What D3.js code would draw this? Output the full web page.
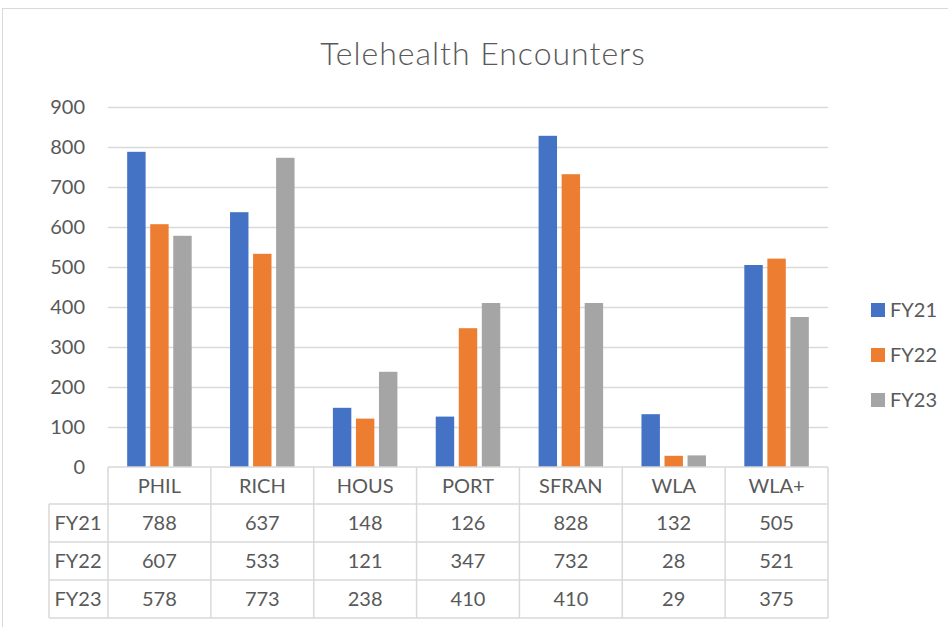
<!DOCTYPE html>
<html><head><meta charset="utf-8">
<script src="https://cdn.jsdelivr.net/npm/d3@7"></script>
<style>body{margin:0;background:#fff}svg{display:block}text{font-family:Lato,"Open Sans",sans-serif;fill:#595959}</style>
</head><body>
<script>
const title = "Telehealth Encounters";
const categories = ["PHIL","RICH","HOUS","PORT","SFRAN","WLA","WLA+"];
const seriesNames = ["FY21","FY22","FY23"];
const fy21 = [788,637,148,126,828,132,505];
const fy22 = [607,533,121,347,732,28,521];
const fy23 = [578,773,238,410,410,29,375];
const yTicks = [0,100,200,300,400,500,600,700,800,900];
const colors = ["#4472C4","#ED7D31","#A5A5A5"];
const seriesValues = [fy21, fy22, fy23];

const W = 948, H = 627;
const svg = d3.select("body").append("svg").attr("width", W).attr("height", H);
svg.append("rect").attr("x",2.5).attr("y",8.5).attr("width",W+10).attr("height",H+10)
  .attr("fill","#fff").attr("stroke","#D9D9D9").attr("stroke-width",1);

const plot = {left:108, right:828, top:107, bottom:467};
const x = d3.scaleBand().domain(categories).range([plot.left, plot.right]).paddingInner(0).paddingOuter(0);
const y = d3.scaleLinear().domain([0,900]).range([plot.bottom, plot.top]);
const groupW = 64.5;
const inner = d3.scaleBand().domain(seriesNames).range([0, groupW]).paddingInner(0.2).paddingOuter(0);

svg.append("text").attr("x",483).attr("y",65).attr("text-anchor","middle")
  .style("font-size","32px").style("font-weight","300").style("letter-spacing","1px").text(title);

// gridlines
svg.append("g").selectAll("line").data(yTicks.filter(d=>d>0)).join("line")
  .attr("x1",plot.left).attr("x2",plot.right)
  .attr("y1",d=>Math.round(y(d))+0.5).attr("y2",d=>Math.round(y(d))+0.5)
  .attr("stroke","#D9D9D9").attr("stroke-width",1.5);

// y axis labels
svg.append("g").selectAll("text").data(yTicks).join("text")
  .attr("x",85).attr("y",d=>y(d)+7).attr("text-anchor","end")
  .style("font-size","20px").text(d=>d);

// bars
const groupOffset = (x.bandwidth() - groupW)/2;
seriesNames.forEach((s,si)=>{
  svg.append("g").selectAll("rect").data(seriesValues[si]).join("rect")
    .attr("x",(d,i)=>x(categories[i]) + groupOffset + inner(s))
    .attr("y",d=>y(d)).attr("width",inner.bandwidth())
    .attr("height",d=>y(0)-y(d)).attr("fill",colors[si]);
});

// data table
const rowTop = [467, 504, 542, 580, 618];
const tbl = svg.append("g");
const lc = "#D9D9D9";
rowTop.forEach((ry,i)=>{
  tbl.append("line").attr("x1", i===0?plot.left:49).attr("x2",plot.right)
    .attr("y1",ry).attr("y2",ry).attr("stroke",lc).attr("stroke-width",1.5);
});
const colXs = categories.map(c=>x(c)).concat([plot.right]);
colXs.forEach(cx=>{
  tbl.append("line").attr("x1",cx).attr("x2",cx).attr("y1",467).attr("y2",618)
    .attr("stroke",lc).attr("stroke-width",1.5);
});
tbl.append("line").attr("x1",49).attr("x2",49).attr("y1",504).attr("y2",618)
  .attr("stroke",lc).attr("stroke-width",1.5);
tbl.selectAll("text.cat").data(categories).join("text").attr("class","cat")
  .attr("x",c=>x(c)+x.bandwidth()/2).attr("y",493).attr("text-anchor","middle")
  .style("font-size","20px").text(c=>c);
seriesNames.forEach((s,si)=>{
  const cy = (rowTop[si+1]+rowTop[si+2])/2 + 7;
  tbl.append("text").attr("x",78).attr("y",cy).attr("text-anchor","middle")
    .style("font-size","20px").text(s);
  tbl.append("g").selectAll("text").data(seriesValues[si]).join("text")
    .attr("x",(d,i)=>x(categories[i])+x.bandwidth()/2).attr("y",cy)
    .attr("text-anchor","middle").style("font-size","20px").text(d=>d);
});

// legend
const leg = svg.append("g");
seriesNames.forEach((s,si)=>{
  const cy = 310 + si*45;
  leg.append("rect").attr("x",871).attr("y",cy-7).attr("width",14).attr("height",14).attr("fill",colors[si]);
  leg.append("text").attr("x",890).attr("y",cy+7).style("font-size","20px").text(s);
});
</script>
</body></html>
